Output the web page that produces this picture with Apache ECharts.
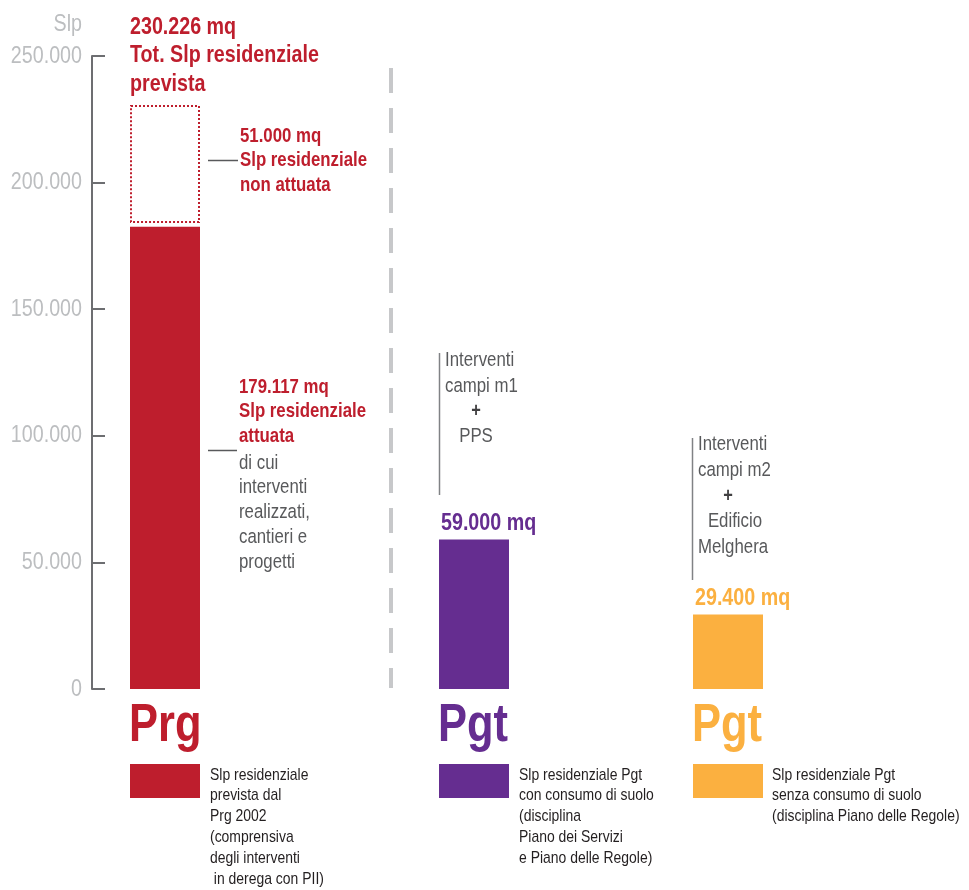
<!DOCTYPE html>
<html>
<head>
<meta charset="utf-8">
<script src="https://cdn.jsdelivr.net/npm/echarts@6/dist/echarts.min.js"></script>
<style>
html,body{margin:0;padding:0;background:#fff;}
#chart{width:969px;height:890px;}
</style>
</head>
<body>
<div id="chart"></div>
<script>
// ---- data ----
const categories = ['Prg', 'Pgt', 'Pgt'];
const barValues = [182600, 59000, 29400];          // bar heights as drawn
const barLabels = [null, 59000, 29400];            // value labels above bars
const plannedTop = 230226;                         // dotted box top (Tot. Slp prevista)
const plannedBottom = 184400;                      // dotted box bottom
const totalLabel = 230226;
const nonRealizedLabel = 51000;
const realizedLabel = 179117;
const yTicks = [0, 50000, 100000, 150000, 200000, 250000];
const legendTexts = [
  'Slp residenziale\nprevista dal\nPrg 2002\n(comprensiva\ndegli interventi\n in derega con PII)',
  'Slp residenziale Pgt\ncon consumo di suolo\n(disciplina\nPiano dei Servizi\ne Piano delle Regole)',
  'Slp residenziale Pgt\nsenza consumo di suolo\n(disciplina Piano delle Regole)'
];
const noteM1 = ['Interventi\ncampi m1', '+', 'PPS'];
const noteM2 = ['Interventi\ncampi m2', '+', 'Edificio', 'Melghera'];
const realizedDetail = 'di cui\ninterventi\nrealizzati,\ncantieri e\nprogetti';

// ---- styling / layout ----
const FONT = '"Liberation Sans", Arial, sans-serif';
const NARROW = 0.82;   // horizontal condensing to mimic a narrow typeface
const colors = ['#be1e2d', '#652d90', '#fbb040'];
const GRAY = '#58595b';
const AXIS_TXT = '#bcbec0';
const fmt = v => String(v).replace(/\B(?=(\d{3})+(?!\d))/g, '.');
const barCenters = [73, 382, 636];   // x positions on hidden x axis
const BAR_W = 70;

const chart = echarts.init(document.getElementById('chart'));
const barData = barValues.map((v, i) => [barCenters[i], v, i]);

function txt(x, y, text, opt) {
  return {
    type: 'text', x: x, y: y, scaleX: NARROW, silent: true,
    style: Object.assign({
      text: text, fontFamily: FONT, fontSize: 20, fill: GRAY,
      align: 'left', verticalAlign: 'top'
    }, opt || {})
  };
}
function line(x1, y1, x2, y2, stroke, w, dash) {
  return { type: 'line', silent: true,
    shape: {x1: x1, y1: y1, x2: x2, y2: y2},
    style: {stroke: stroke, lineWidth: w, lineDash: dash || null} };
}

const graphics = [
  line(391, 68, 391, 688, '#c7c8ca', 4, [25, 15]),
  txt(130, 13, fmt(totalLabel) + ' mq\nTot. Slp residenziale\nprevista',
      {fontSize: 24, fontWeight: 'bold', fill: colors[0], lineHeight: 28.5}),
  line(208, 160.5, 238, 160.5, GRAY, 1.5),
  txt(240, 124.5, fmt(nonRealizedLabel) + ' mq\nSlp residenziale\nnon attuata',
      {fontSize: 20.5, fontWeight: 'bold', fill: colors[0], lineHeight: 24.2}),
  line(208, 450.5, 237, 450.5, GRAY, 1.5),
  txt(239, 374.5, fmt(realizedLabel) + ' mq\nSlp residenziale\nattuata',
      {fontSize: 20.5, fontWeight: 'bold', fill: colors[0], lineHeight: 24.8}),
  txt(239, 450.5, realizedDetail, {fontSize: 20.5, fill: GRAY, lineHeight: 24.8}),
  line(439.5, 353, 439.5, 495, '#808285', 1.5),
  txt(445, 348, noteM1[0], {fontSize: 20.5, lineHeight: 25.5}),
  txt(476, 411, noteM1[1], {align: 'center', verticalAlign: 'middle', fontWeight: 'bold', fill: '#414042'}),
  txt(476, 436, noteM1[2], {fontSize: 20.5, align: 'center', verticalAlign: 'middle'}),
  line(692.5, 438, 692.5, 580, '#808285', 1.5),
  txt(698, 432, noteM2[0], {fontSize: 20.5, lineHeight: 25.5}),
  txt(728, 496, noteM2[1], {align: 'center', verticalAlign: 'middle', fontWeight: 'bold', fill: '#414042'}),
  txt(735, 521.5, noteM2[2], {fontSize: 20.5, align: 'center', verticalAlign: 'middle'}),
  txt(698, 547, noteM2[3], {fontSize: 20.5, verticalAlign: 'middle'}),
];
const catX = [130, 439, 693];
const legTextX = [210, 519, 772];
categories.forEach((c, i) => {
  graphics.push(txt(catX[i] - 1, 726, c, {fontSize: 53, fontWeight: 'bold', fill: colors[i], verticalAlign: 'middle'}));
  graphics.push({type: 'rect', silent: true, shape: {x: catX[i], y: 764, width: BAR_W, height: 34}, style: {fill: colors[i]}});
  graphics.push(txt(legTextX[i], 764.5, legendTexts[i], {fontSize: 17, fill: '#231f20', lineHeight: 20.8}));
});

chart.setOption({
  animation: false,
  backgroundColor: '#fff',
  grid: {left: 92, right: 0, top: 56, bottom: 201, containLabel: false, outerBoundsMode: 'none'},
  xAxis: {type: 'value', min: 0, max: 877, show: false},
  yAxis: {
    type: 'value', min: 0, max: 250000, interval: 50000,
    axisLine: {show: true, lineStyle: {color: '#6d6e71', width: 2}},
    axisTick: {show: true, inside: true, length: 13, lineStyle: {color: '#6d6e71', width: 2}},
    splitLine: {show: false},
    axisLabel: {show: false}
  },
  series: [
    {
      type: 'custom',
      data: barData,
      renderItem: function (params, api) {
        const x = api.value(0), v = api.value(1), i = api.value(2);
        const p0 = api.coord([x, 0]);
        const p1 = api.coord([x, v]);
        const left = Math.round(p0[0] - BAR_W / 2);
        const children = [{
          type: 'rect',
          shape: {x: left, y: p1[1], width: BAR_W, height: p0[1] - p1[1]},
          style: {fill: colors[i]}
        }];
        if (barLabels[i] != null) {
          children.push({
            type: 'text', x: left + 2, y: p1[1] - 16, scaleX: NARROW,
            style: {text: fmt(barLabels[i]) + ' mq', fontFamily: FONT, fontSize: 24, fontWeight: 'bold',
              fill: colors[i], align: 'left', verticalAlign: 'middle'}
          });
        }
        return {type: 'group', children: children};
      }
    },
    {
      type: 'custom',
      data: [[barCenters[0], plannedBottom, plannedTop]],
      renderItem: function (params, api) {
        const x = api.value(0);
        const pb = api.coord([x, api.value(1)]);
        const pt = api.coord([x, api.value(2)]);
        const left = Math.round(pb[0] - BAR_W / 2);
        return {
          type: 'rect',
          shape: {x: left + 1, y: pt[1], width: BAR_W - 2, height: pb[1] - pt[1]},
          style: {fill: 'none', stroke: colors[0], lineWidth: 2, lineDash: [2, 2]}
        };
      }
    }
  ],
  graphic: graphics
});

// y-axis tick labels and axis name, placed through the axis scale
const axisX = chart.convertToPixel({yAxisIndex: 0}, 0) !== undefined
  ? chart.convertToPixel({gridIndex: 0}, [0, 0])[0] : 92;
yTicks.forEach(v => {
  const y = chart.convertToPixel({yAxisIndex: 0}, v);
  graphics.push(txt(axisX - 10, y, fmt(v), {fontSize: 24, fill: AXIS_TXT, align: 'right', verticalAlign: 'middle'}));
});
const yTop = chart.convertToPixel({yAxisIndex: 0}, 250000);
graphics.push(txt(axisX - 10, yTop - 32, 'Slp', {fontSize: 24, fill: AXIS_TXT, align: 'right', verticalAlign: 'middle'}));
chart.setOption({graphic: graphics}, {replaceMerge: ['graphic']});
</script>
</body>
</html>
